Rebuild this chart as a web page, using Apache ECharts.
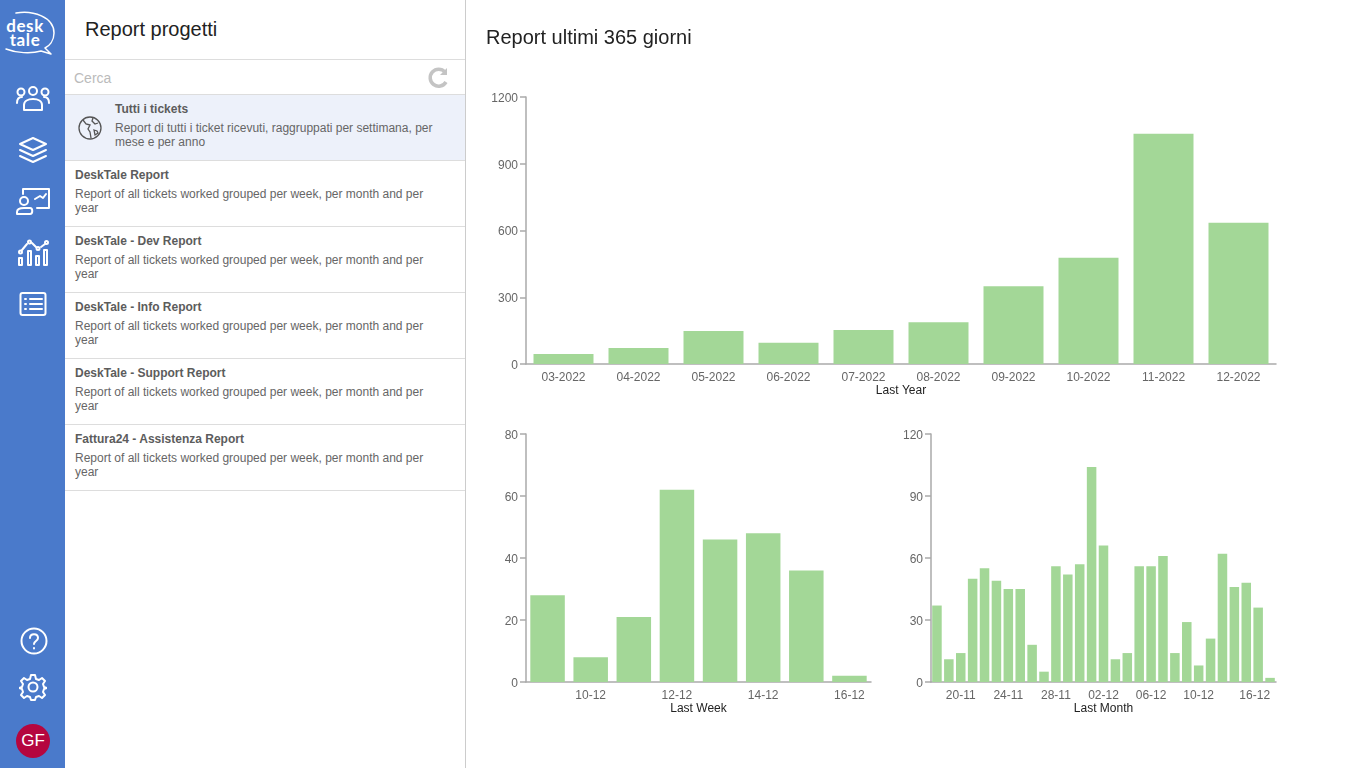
<!DOCTYPE html>
<html>
<head>
<meta charset="utf-8">
<title>Report progetti</title>
<script src="https://cdn.jsdelivr.net/npm/echarts@6/dist/echarts.min.js"></script>
<style>
  html, body { margin: 0; height: 100%; overflow: hidden; background: #fff; font-family: "Liberation Sans", Arial, sans-serif; }
  #nav { position: absolute; left: 0; top: 0; width: 65px; height: 768px; background: #4a7acb; }
  #nav svg { position: absolute; fill: none; stroke: #fff; stroke-width: 2; stroke-linecap: round; stroke-linejoin: round; }
  #logo { position: absolute; left: 3px; top: 19px; width: 44px; color: #fff; font-family: Lato, sans-serif; font-size: 17px; line-height: 13.5px; font-weight: 700; letter-spacing: .6px; text-align: center; }
  #avatar { position: absolute; left: 16px; top: 724px; width: 34px; height: 34px; border-radius: 50%; background: #b5063f; color: #fff; font-size: 17px; line-height: 34px; text-align: center; }
  #side { position: absolute; left: 65px; top: 0; width: 400px; height: 768px; border-right: 1px solid #ccc; }
  #side h1 { position: absolute; left: 20px; top: 17px; margin: 0; font-size: 20px; line-height: 24px; font-weight: normal; color: #222; }
  #search { position: absolute; left: 0; top: 59px; width: 400px; height: 34px; border-top: 1px solid #ddd; border-bottom: 1px solid #ddd; color: #bbb; font-size: 14px; line-height: 36px; text-indent: 9px; }
  #reload { position: absolute; left: 362px; top: 6px; }
  .row { position: absolute; left: 0; width: 400px; height: 65px; border-bottom: 1px solid #ddd; color: #666; font-size: 12px; line-height: 14px; }
  .row b { position: absolute; left: 10px; top: 7px; color: #5c5c5c; }
  .row span { position: absolute; left: 10px; top: 26px; width: 370px; }
  .row.on { background: #edf1fa; }
  .row.on b, .row.on span { left: 50px; }
  .row.on span { width: 335px; }
  .row.on svg { position: absolute; left: 12px; top: 20px; }
  #charts { position: absolute; left: 466px; top: 0; width: 900px; height: 768px; }
</style>
</head>
<body>
<div id="nav">
  <div id="logo">desk<br>tale</div>
  <svg style="left:3px;top:10px" width="54" height="46" viewBox="0 0 54 46"><path d="M13 3 C30 0 51 7 51 23 C51 31 46 36 42 38 L48 44 L38 41 C28 44 13 43 3 39" stroke-width="1.5"/></svg>
  <svg style="left:15px;top:86px" width="36" height="26" viewBox="0 0 36 26"><circle cx="6" cy="6" r="3.5"/><circle cx="18" cy="5" r="4"/><circle cx="30" cy="6" r="3.5"/><path d="M2 17c0-4 2-6 5-6M34 17c0-4-2-6-5-6M9 24v-5c0-4 4-6 9-6s9 2 9 6v5z"/></svg>
  <svg style="left:18px;top:136px" width="30" height="28" viewBox="0 0 30 28"><path d="M15 2 28 8 15 14 2 8zM2 14l13 6 13-6M2 20l13 6 13-6"/></svg>
  <svg style="left:15px;top:186px" width="36" height="30" viewBox="0 0 36 30"><path d="M8 8V3H34V22H22M20 13l5-3 3 2 3-4"/><circle cx="9" cy="15" r="4"/><path d="M2 28v-2c0-3 3-4 7-4h6c3 0 3 6 0 6z"/></svg>
  <svg style="left:17px;top:238px" width="32" height="30" viewBox="0 0 32 30"><rect x="2" y="20" width="3" height="7"/><rect x="11" y="13" width="3" height="14"/><rect x="19" y="18" width="3" height="9"/><rect x="27" y="12" width="3" height="15"/><path d="M5 12 10 6M15 5 19 9M24 9 28 6"/><circle cx="3.5" cy="14" r="1.5"/><circle cx="12.5" cy="4" r="1.5"/><circle cx="21" cy="10.5" r="1.5"/><circle cx="29.5" cy="4.5" r="1.5"/></svg>
  <svg style="left:19px;top:291px" width="28" height="26" viewBox="0 0 28 26"><rect x="1.5" y="2" width="25" height="22" rx="2"/><path d="M11 8H23M11 13H23M11 18H23M6 8h1M6 13h1M6 18h1"/></svg>
  <svg style="left:20px;top:627px" width="28" height="28" viewBox="0 0 28 28"><circle cx="14" cy="14" r="12.5"/><path d="M10 11c0-5 8-5 8 0 0 3-4 3-4 6M14 21v.5"/></svg>
  <svg style="left:19px;top:673px" width="28" height="28" viewBox="0 0 28 28"><circle cx="14" cy="14" r="4.5"/><path d="M12 2h4l1 4 3 1 3-2 3 3-2 3 1 3 3 1v0l-3 1-1 3 2 3-3 3-3-2-3 1-1 3h-4l-1-3-3-1-3 2-3-3 2-3-1-3-3-1 0-0 3-1 1-3-2-3 3-3 3 2 3-1z"/></svg>
  <div id="avatar">GF</div>
</div>
<div id="side">
  <h1>Report progetti</h1>
  <div id="search">Cerca
    <svg id="reload" width="24" height="24" viewBox="0 0 24 24" fill="none" stroke="#c4c4c4" stroke-width="3.5"><path d="M19 16a8.5 8.5 0 1 1-1-10"/><path d="M20 2v7h-7" fill="#c4c4c4" stroke="none"/></svg>
  </div>
  <div class="row on" style="top:95px">
    <svg width="26" height="26" viewBox="0 0 26 26" fill="none" stroke="#555" stroke-width="1.3"><circle cx="13" cy="13" r="11"/><path d="M6 5l3 4 4 1-2 4 2 3 1 6M16 3l-1 3 3 3 3-1M17 15l3 1 1 2-3 2z"/></svg>
    <b>Tutti i tickets</b>
    <span>Report di tutti i ticket ricevuti, raggruppati per settimana, per mese e per anno</span>
  </div>
  <div class="row" style="top:161px"><b>DeskTale Report</b><span>Report of all tickets worked grouped per week, per month and per year</span></div>
  <div class="row" style="top:227px"><b>DeskTale - Dev Report</b><span>Report of all tickets worked grouped per week, per month and per year</span></div>
  <div class="row" style="top:293px"><b>DeskTale - Info Report</b><span>Report of all tickets worked grouped per week, per month and per year</span></div>
  <div class="row" style="top:359px"><b>DeskTale - Support Report</b><span>Report of all tickets worked grouped per week, per month and per year</span></div>
  <div class="row" style="top:425px"><b>Fattura24 - Assistenza Report</b><span>Report of all tickets worked grouped per week, per month and per year</span></div>
</div>
<div id="charts"></div>
<script>
const yearDays = ['03-2022', '04-2022', '05-2022', '06-2022', '07-2022', '08-2022', '09-2022', '10-2022', '11-2022', '12-2022']
const yearValues = [45, 72, 148, 95, 153, 188, 350, 478, 1035, 635]

const weekDays = ['09-12', '10-12', '11-12', '12-12', '13-12', '14-12', '15-12', '16-12']
const weekValues = [28, 8, 21, 62, 46, 48, 36, 2]
const weekTicks = ['10-12', '12-12', '14-12', '16-12']

const monthDays = ['18-11', '19-11', '20-11', '21-11', '22-11', '23-11', '24-11', '25-11', '26-11', '27-11', '28-11', '29-11', '30-11',
  '01-12', '02-12', '03-12', '04-12', '05-12', '06-12', '07-12', '08-12', '09-12', '10-12', '11-12', '12-12', '13-12', '14-12', '15-12', '16-12']
const monthValues = [37, 11, 14, 50, 55, 49, 45, 45, 18, 5, 56, 52, 57, 104, 66, 11, 14, 56, 56, 61, 14, 29, 8, 21, 62, 46, 48, 36, 2]
const monthTicks = ['20-11', '24-11', '28-11', '02-12', '06-12', '10-12', '16-12']

const axisLine = { lineStyle: { color: '#aaa', width: 1.5 } }
const axisTick = { lineStyle: { color: '#aaa', width: 1.5 }, length: 6 }
const labelFont = { color: '#666', fontSize: 12, fontFamily: 'Liberation Sans' }

const xAxis = (gridIndex, name, data, ticks, extraLabel) => {
  const show = ticks ? (i, v) => ticks.includes(v) : 0
  return {
    type: 'category',
    gridIndex,
    data,
    name,
    nameLocation: 'middle',
    nameGap: 21,
    nameTextStyle: { color: '#222', fontSize: 12, fontFamily: 'Liberation Sans' },
    axisLine,
    axisTick: { ...axisTick, alignWithLabel: true, interval: show },
    axisLabel: { ...labelFont, margin: 8, interval: show, hideOverlap: false, ...extraLabel }
  }
}
const yAxis = (gridIndex, max, interval) => ({
  type: 'value',
  gridIndex,
  min: 0,
  max,
  interval,
  axisLine: { ...axisLine, show: true },
  axisTick: { ...axisTick, show: true },
  axisLabel: {
    ...labelFont,
    margin: 8,
    // labels sit a little below their tick
    formatter: v => `{low|${v}}`,
    rich: { low: { ...labelFont, padding: [3, 0, 0, 0] } }
  },
  splitLine: { show: false }
})
const bars = (index, data) => ({
  type: 'bar',
  xAxisIndex: index,
  yAxisIndex: index,
  data,
  barCategoryGap: '20%',
  itemStyle: { color: '#a3d797' }
})

const chart = echarts.init(document.getElementById('charts'))
chart.setOption({
  animation: false,
  title: {
    text: 'Report ultimi 365 giorni',
    left: 15,
    top: 23,
    textStyle: { color: '#222', fontSize: 20, fontWeight: 'normal', fontFamily: 'Liberation Sans' }
  },
  grid: [
    { left: 60, top: 97, width: 750, height: 267 },
    { left: 60, top: 434, width: 345, height: 248 },
    { left: 465, top: 434, width: 345, height: 248 }
  ],
  xAxis: [
    xAxis(0, 'Last Year', yearDays),
    xAxis(1, 'Last Week', weekDays, weekTicks),
    xAxis(2, 'Last Month', monthDays, monthTicks, { alignMaxLabel: 'right' })
  ],
  yAxis: [yAxis(0, 1200, 300), yAxis(1, 80, 20), yAxis(2, 120, 30)],
  series: [bars(0, yearValues), bars(1, weekValues), bars(2, monthValues)]
})
</script>
</body>
</html>
